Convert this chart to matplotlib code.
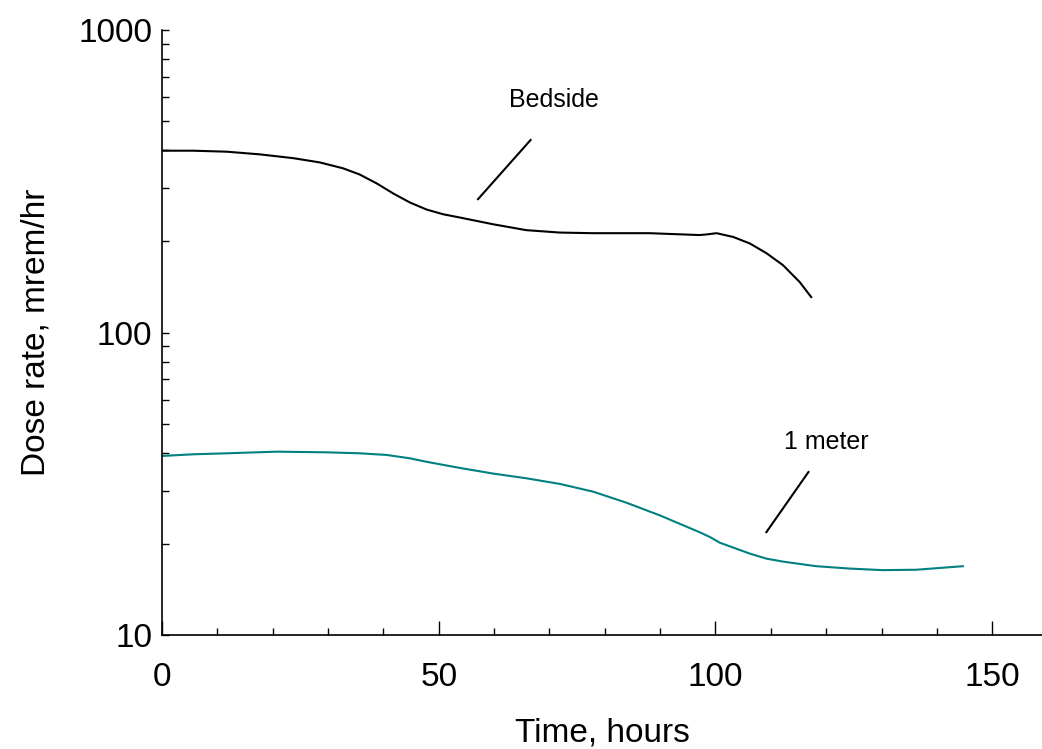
import matplotlib
matplotlib.use("Agg")
from matplotlib import pyplot as plt
from matplotlib.ticker import MultipleLocator, LogLocator, FixedLocator, NullFormatter

plt.rcParams["font.family"] = ["Liberation Sans", "DejaVu Sans"]

# Bedside dose rate (mrem/hr) vs time (hours)
bed_t = [0, 5.65, 11.7, 17.7, 23.7, 28.5, 32.7, 35.7, 38.8, 41.8, 44.8, 47.8, 50.8, 53.8,
         59.8, 65.8, 71.9, 77.9, 88.1, 97.1, 98.4, 100.2, 103.2, 106.2, 109.2, 112.2, 115.2, 117.3]
bed_rate = [399, 399, 396, 388, 377, 365, 349, 333, 311, 288, 269, 255, 246, 240,
            228, 218, 214, 213, 213, 210, 211, 213, 207, 197, 183, 167, 147, 131]

# 1 meter dose rate
m_t = [0, 5.65, 11.7, 20.7, 29.7, 35.7, 40.6, 44.8, 47.8, 53.8, 59.8, 65.8, 71.9, 77.9,
       83.9, 89.9, 97.1, 99.0, 100.8, 106.2, 109.2, 112.2, 118.2, 124.2, 130.2, 136.3, 144.7]
m_rate = [39.1, 39.6, 39.9, 40.4, 40.2, 39.9, 39.4, 38.4, 37.4, 35.7, 34.2, 33.0, 31.6, 29.8,
          27.4, 24.9, 21.9, 21.1, 20.2, 18.6, 17.9, 17.5, 16.9, 16.6, 16.4, 16.45, 16.9]

fig = plt.figure(figsize=(10.42, 7.49), dpi=100)
ax = fig.add_axes([0.1555, 0.152, 0.8445, 0.808])

ax.plot(bed_t, bed_rate, color="black", lw=1.5, solid_joinstyle="round")
ax.plot(m_t, m_rate, color="#008080", lw=1.5, solid_joinstyle="round")

# label leader lines
ax.plot([57.1, 66.6], [276, 433], color="black", lw=1.5)
ax.plot([109.2, 116.8], [21.9, 34.6], color="black", lw=1.5)
ax.text(70.8, 556, "Bedside", fontsize=18, ha="center", va="baseline")
ax.text(120.1, 41.2, "1 meter", fontsize=18, ha="center", va="baseline")

ax.set_yscale("log")
ax.set_xlim(0, 159)
ax.set_ylim(10, 1000)

ax.xaxis.set_major_locator(MultipleLocator(50))
ax.xaxis.set_minor_locator(MultipleLocator(10))
ax.yaxis.set_major_locator(FixedLocator([10, 100, 1000]))
ax.yaxis.set_minor_locator(LogLocator(base=10, subs=range(2, 10)))
ax.yaxis.set_minor_formatter(NullFormatter())
ax.set_yticklabels(["10", "100", "1000"])

ax.tick_params(axis="x", which="major", direction="in", length=10, width=1, pad=19, labelsize=24)
ax.tick_params(axis="x", which="minor", direction="in", length=5, width=1)
ax.tick_params(axis="y", which="both", direction="in", length=5, width=1, pad=7, labelsize=24)

for s in ["top", "right"]:
    ax.spines[s].set_visible(False)
for s in ["left", "bottom"]:
    ax.spines[s].set_linewidth(1.2)

ax.set_xlabel("Time, hours", fontsize=24, labelpad=18)
ax.set_ylabel("Dose rate, mrem/hr", fontsize=24, labelpad=19)

plt.savefig("out.png", dpi=100)
